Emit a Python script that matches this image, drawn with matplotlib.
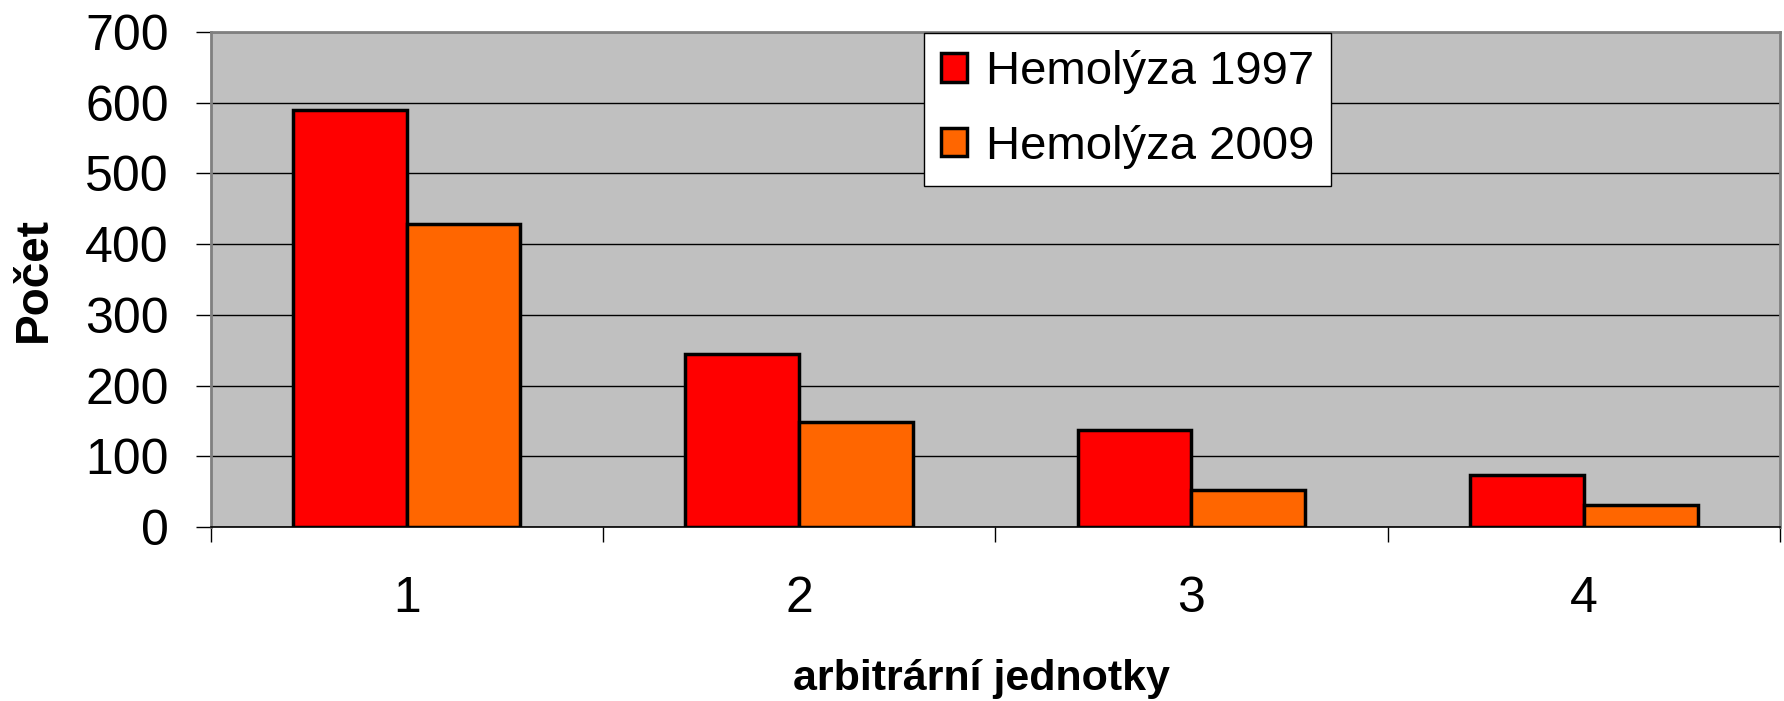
import matplotlib
matplotlib.use("Agg")
import matplotlib.pyplot as plt
import numpy as np

plt.rcParams["font.family"] = ["Liberation Sans", "DejaVu Sans"]

categories = ["1", "2", "3", "4"]
hemolyza_1997 = [589, 244, 137, 73]
hemolyza_2009 = [429, 148, 52, 31]
series_labels = ["Hemolýza 1997", "Hemolýza 2009"]
y_ticks = [0, 100, 200, 300, 400, 500, 600, 700]

W, H = 1784, 701
fig = plt.figure(figsize=(W / 100, H / 100), dpi=100)
ax = fig.add_axes([210.5 / W, 1 - 527 / H, (1780 - 210.5) / W, (527 - 32) / H])
ax.set_facecolor("#C0C0C0")

x = np.arange(len(categories))
bw = 0.29
ax.bar(x - bw / 2, hemolyza_1997, bw, color="#FF0000", edgecolor="black",
       linewidth=2.5, label=series_labels[0], zorder=3)
ax.bar(x + bw / 2, hemolyza_2009, bw, color="#FF6600", edgecolor="black",
       linewidth=2.5, label=series_labels[1], zorder=3)

ax.set_xlim(-0.5, len(categories) - 0.5)
ax.set_ylim(0, 700)
ax.set_yticks(y_ticks)
ax.yaxis.grid(True, color="black", linewidth=1.0, zorder=1)
ax.set_axisbelow(True)

ax.set_xticks(x)
ax.set_xticklabels(categories)
ax.set_xticks(np.arange(-0.5, len(categories)), minor=True)
ax.tick_params(axis="x", which="major", length=0, pad=35, labelsize=36)
ax.tick_params(axis="x", which="minor", length=11, width=1, direction="out")
ax.tick_params(axis="y", length=11, width=1, direction="out", pad=19, labelsize=36)

for side in ("top", "right", "left"):
    ax.spines[side].set_color("#808080")
    ax.spines[side].set_linewidth(2)
ax.spines["bottom"].set_color("black")
ax.spines["bottom"].set_linewidth(1.2)
ax.spines["bottom"].set_zorder(4)

ax.set_xlabel("arbitrární jednotky", fontsize=31, fontweight="bold")
ax.xaxis.set_label_coords((981 - 210.5) / (1780 - 210.5), (527 - 679) / 495)
ax.xaxis.label.set_va("center")
ax.set_ylabel("Počet", fontsize=33, fontweight="bold")
ax.yaxis.set_label_coords((34 - 210.5) / (1780 - 210.5), 0.5)
ax.yaxis.label.set_va("center")

leg = ax.legend(loc="upper left", bbox_to_anchor=((924 - 210.5) / 1569.5, 0.998),
                borderaxespad=0, fontsize=34, handlelength=0.55, handleheight=0.55,
                handletextpad=0.4, labelspacing=0.65, borderpad=0.36,
                fancybox=False, framealpha=1, edgecolor="black")
leg.get_frame().set_linewidth(1.0)

fig.savefig("out.png", dpi=100)
